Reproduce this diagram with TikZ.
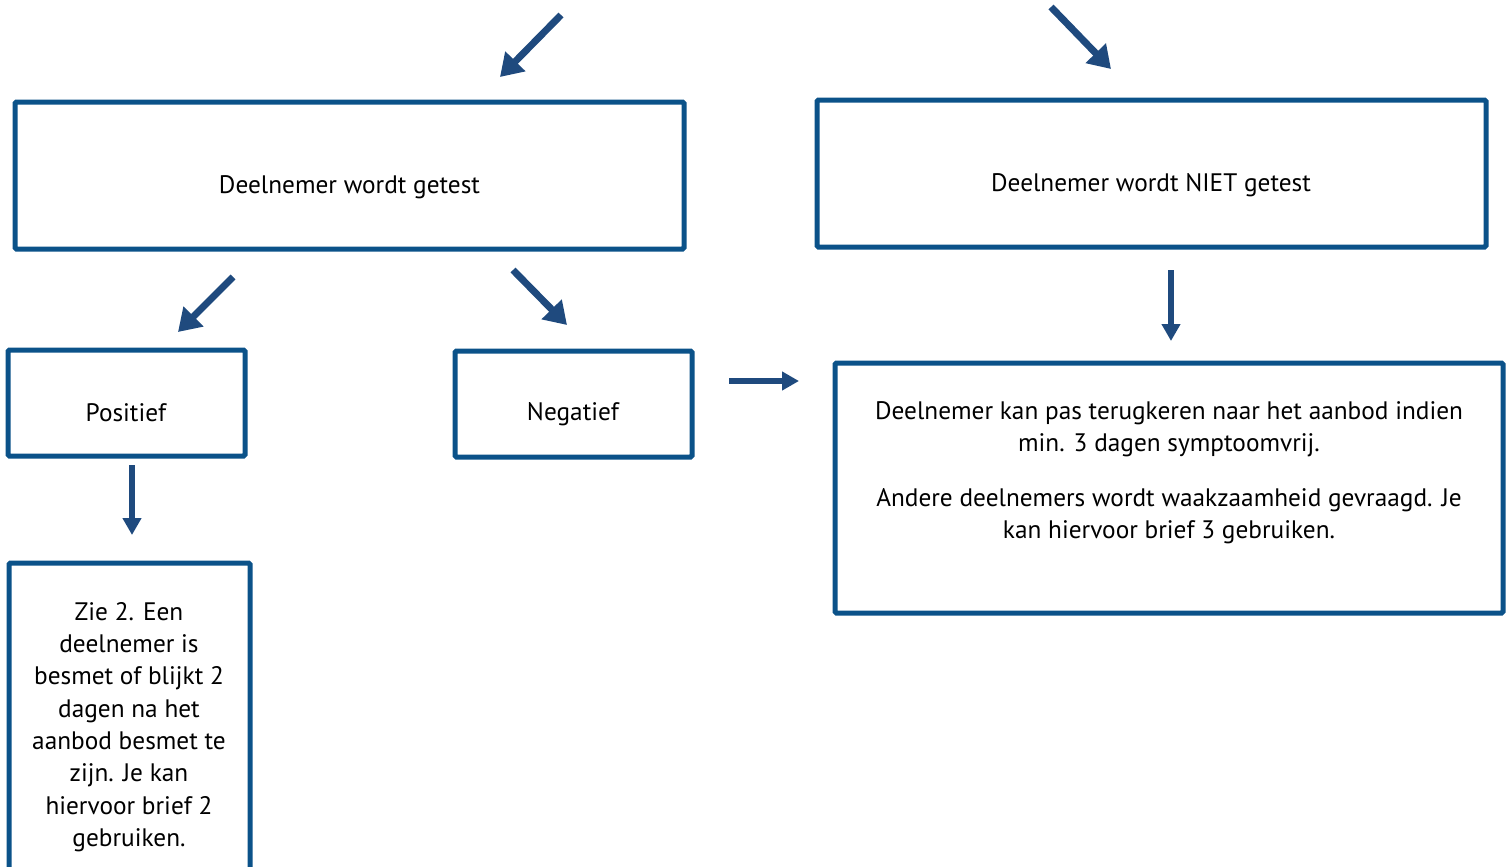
\documentclass[tikz,border=0pt]{standalone}
\usepackage{fontspec}
\setmainfont{PT Sans}
\usetikzlibrary{arrows.meta}
\definecolor{boxblue}{HTML}{0B5289}
\definecolor{arrblue}{HTML}{1F4A7E}
\tikzset{
  flowbox/.style={draw=boxblue, line width=5pt, rounded corners=1.5pt},
  lbl/.style={font=\fontsize{25.3}{32.3}\selectfont, align=center, text=black},
  bigarrow/.style={draw=arrblue, line width=7pt, -{Triangle[length=22pt,width=27pt]}},
  thinarrow/.style={draw=arrblue, line width=5.5pt, -{Triangle[length=17pt,width=18pt]}},
}
\begin{document}
\begin{tikzpicture}[x=1pt,y=-1pt]
\useasboundingbox (0,0) rectangle (1508,867);
% boxes
\draw[flowbox] (15,102) rectangle (684,249);
\node[lbl] (tested) at (349.5,187) {Deelnemer wordt getest};
\draw[flowbox] (817,100) rectangle (1486,247);
\node[lbl] (nottested) at (1151,185) {Deelnemer wordt NIET getest};
\draw[flowbox] (8,350) rectangle (245,456);
\node[lbl] (pos) at (126,413) {Positief};
\draw[flowbox] (455,351) rectangle (692,457);
\node[lbl] (neg) at (573,414) {Negatief};
\draw[flowbox] (835,363) rectangle (1503,613);
\node[lbl] (ret) at (1169,429) {Deelnemer kan pas terugkeren naar het aanbod indien\\min. 3 dagen symptoomvrij.};
\node[lbl] (other) at (1169,516) {Andere deelnemers wordt waakzaamheid gevraagd. Je\\kan hiervoor brief 3 gebruiken.};
\draw[flowbox] (9,563) rectangle (250,880);
\node[lbl] (zie) at (129,727) {Zie 2. Een\\deelnemer is\\besmet of blijkt 2\\dagen na het\\aanbod besmet te\\zijn. Je kan\\hiervoor brief 2\\gebruiken.};
% arrow end points
\coordinate (a1s) at (561,15);   \coordinate (a1e) at (500,77);
\coordinate (a2s) at (1051,7);   \coordinate (a2e) at (1111,69);
\coordinate (a3s) at (233,277);  \coordinate (a3e) at (178,332);
\coordinate (a4s) at (513,270);  \coordinate (a4e) at (567,325);
\coordinate (a5s) at (1171,270); \coordinate (a5e) at (1171,341);
\coordinate (a6s) at (132,465);  \coordinate (a6e) at (132,535);
\coordinate (a7s) at (729,381);  \coordinate (a7e) at (799,381);
\draw[bigarrow] (a1s) -- (a1e);
\draw[bigarrow] (a2s) -- (a2e);
\draw[bigarrow] (a3s) -- (a3e);
\draw[bigarrow] (a4s) -- (a4e);
\draw[thinarrow] (a5s) -- (a5e);
\draw[thinarrow] (a6s) -- (a6e);
\draw[thinarrow] (a7s) -- (a7e);
\end{tikzpicture}
\end{document}
